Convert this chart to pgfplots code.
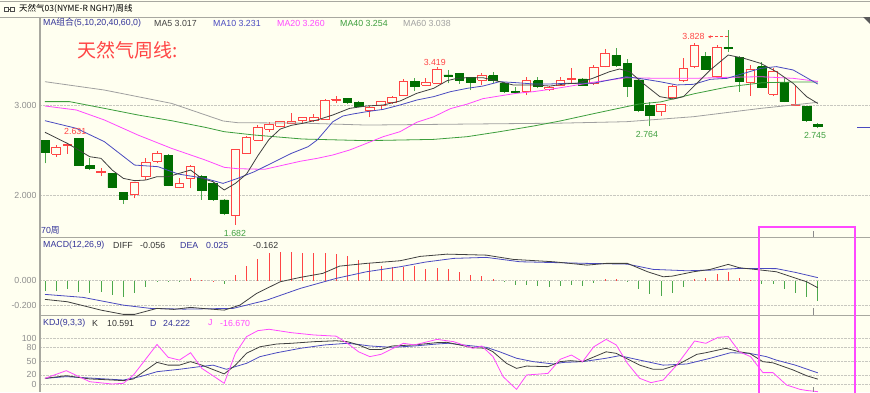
\documentclass[border=0pt]{standalone}
\usepackage{pgfplots}
\pgfplotsset{compat=1.18}
\usepackage{pgfplotstable}
\usepackage{fontspec}
\setmainfont{Liberation Sans}
\newfontfamily\cjk{Noto Sans CJK SC}
\usetikzlibrary{arrows.meta}
\definecolor{bg}{HTML}{FFFFF0}
\definecolor{framec}{HTML}{A8A8A0}
\definecolor{gridc}{HTML}{C8C8C0}
\definecolor{tickc}{HTML}{8E8E8E}
\definecolor{navyc}{HTML}{333399}
\definecolor{upc}{HTML}{FF4545}
\definecolor{dnc}{HTML}{006E00}
\definecolor{dnw}{HTML}{4CA84C}
\definecolor{ma5c}{HTML}{404040}
\definecolor{ma10c}{HTML}{4A4AC0}
\definecolor{ma20c}{HTML}{FF48FF}
\definecolor{ma40c}{HTML}{3C9E3C}
\definecolor{ma60c}{HTML}{A0A0A0}
\definecolor{labg}{HTML}{40A040}
\newcommand\hf{\fontsize{8.8}{10}\selectfont}

\pgfplotstableread{
i O H L C
0 2.607 2.607 2.357 2.478
1 2.456 2.559 2.430 2.530
2 2.555 2.566 2.460 2.566
3 2.631 2.633 2.331 2.338
4 2.331 2.412 2.283 2.302
5 2.254 2.302 2.217 2.265
6 2.247 2.247 2.081 2.089
7 2.033 2.033 1.908 1.964
8 2.019 2.155 1.971 2.147
9 2.210 2.412 2.173 2.368
10 2.383 2.493 2.357 2.467
11 2.441 2.460 2.107 2.118
12 2.092 2.191 2.081 2.136
13 2.191 2.340 2.081 2.320
14 2.210 2.228 1.953 2.055
15 2.136 2.155 1.945 1.964
16 1.953 1.964 1.787 1.806
17 1.787 2.520 1.682 2.511
18 2.467 2.658 2.460 2.644
19 2.614 2.779 2.610 2.750
20 2.732 2.816 2.706 2.791
21 2.768 2.827 2.754 2.816
22 2.798 2.908 2.798 2.816
23 2.835 2.871 2.805 2.860
24 2.827 2.901 2.816 2.860
25 2.842 3.063 2.835 3.055
26 3.055 3.099 3.018 3.063
27 3.070 3.070 3.011 3.033
28 3.033 3.048 2.974 2.982
29 2.938 2.989 2.864 2.971
30 3.000 3.048 2.952 3.037
31 3.026 3.103 3.011 3.085
32 3.110 3.283 3.099 3.257
33 3.257 3.294 3.154 3.209
34 3.221 3.301 3.209 3.246
35 3.239 3.419 3.232 3.397
36 3.331 3.386 3.239 3.320
37 3.349 3.349 3.232 3.268
38 3.305 3.305 3.165 3.250
39 3.276 3.356 3.221 3.331
40 3.323 3.360 3.239 3.268
41 3.239 3.257 3.136 3.147
42 3.147 3.202 3.130 3.136
43 3.147 3.305 3.110 3.268
44 3.268 3.305 3.184 3.202
45 3.173 3.209 3.158 3.195
46 3.221 3.305 3.213 3.276
47 3.283 3.404 3.239 3.294
48 3.287 3.294 3.209 3.221
49 3.239 3.441 3.221 3.415
50 3.423 3.617 3.415 3.570
51 3.544 3.625 3.423 3.434
52 3.459 3.504 3.092 3.202
53 3.276 3.276 2.919 2.945
54 3.000 3.037 2.764 2.890
55 2.926 3.007 2.882 3.007
56 3.081 3.221 3.066 3.202
57 3.276 3.515 3.257 3.404
58 3.423 3.680 3.404 3.654
59 3.540 3.588 3.386 3.397
60 3.312 3.662 3.305 3.632
61 3.632 3.828 3.588 3.625
62 3.526 3.540 3.147 3.257
63 3.250 3.441 3.099 3.397
64 3.423 3.470 3.184 3.195
65 3.121 3.412 3.099 3.367
66 3.250 3.294 3.029 3.037
67 2.993 3.221 2.989 3.007
68 2.982 2.989 2.816 2.835
69 2.787 2.798 2.745 2.761
}\candles

\pgfplotsset{
  panel/.style={scale only axis, width=830pt, xmin=-0.446, xmax=73.66,
    anchor=north west, axis line style={draw=none}, xtick=\empty,
    major tick length=0pt, ymajorgrids,
    grid style={gridc, densely dotted, line width=0.6pt},
    yticklabel style={font=\fontsize{8.8}{10}\selectfont, text=tickc},
    clip=true},
  upwick/.style={upc, line width=0.9pt},
  dnwick/.style={dnw, line width=0.9pt},
  upbody/.style={draw=upc, fill=bg, line width=0.9pt},
  dnbody/.style={draw=dnc, fill=dnc, line width=0.6pt},
}

\begin{document}
\begin{tikzpicture}[x=1pt,y=1pt]
\fill[bg] (0pt,0pt) rectangle (870pt,-392pt);
% title bar
\draw[framec, line width=0.8pt] (0pt,-1pt) -- (870pt,-1pt);
\draw[black!70, line width=0.6pt] (4pt,-7pt) rectangle (8.5pt,-11pt);
\draw[black!70, line width=0.6pt] (10pt,-7pt) rectangle (14.5pt,-11pt);
\draw[black!70, line width=0.6pt] (8.5pt,-9pt) -- (10pt,-9pt);
\node[anchor=west, inner sep=0, font=\cjk\fontsize{8.5}{9}\selectfont] at (19pt,-9pt) {天然气03(NYME-R NGH7)周线};

% ---------------- main panel
\begin{axis}[panel, at={(40pt,-17pt)}, height=220pt, ymin=1.545, ymax=3.970,
  ytick={2,3}, yticklabels={2.000,3.000}]
\pgfplotstablegetrowsof{\candles}
\pgfmathtruncatemacro\lastrow{\pgfplotsretval-1}
\pgfplotsforeachungrouped \r in {0,...,\lastrow}{%
  \pgfplotstablegetelem{\r}{i}\of\candles \edef\ci{\pgfplotsretval}%
  \pgfplotstablegetelem{\r}{O}\of\candles \edef\cO{\pgfplotsretval}%
  \pgfplotstablegetelem{\r}{H}\of\candles \edef\cH{\pgfplotsretval}%
  \pgfplotstablegetelem{\r}{L}\of\candles \edef\cL{\pgfplotsretval}%
  \pgfplotstablegetelem{\r}{C}\of\candles \edef\cC{\pgfplotsretval}%
  \pgfmathsetmacro\xa{\ci-0.38}%
  \pgfmathsetmacro\xb{\ci+0.38}%
  \pgfmathtruncatemacro\isup{(\cC>=\cO)?1:0}%
  \ifnum\isup=1 \def\wk{upwick}\def\bd{upbody}\else\def\wk{dnwick}\def\bd{dnbody}\fi
  \edef\temp{\noexpand\addplot[\wk] coordinates {(\ci,\cL) (\ci,\cH)};
    \noexpand\addplot[\bd] coordinates {(\xa,\cO) (\xb,\cO) (\xb,\cC) (\xa,\cC) (\xa,\cO)};}%
  \temp
}
% MA60
\addplot[ma60c, line width=0.8pt] coordinates {(0,3.257) (5.3,3.165) (11.3,3.018) (15.9,2.824) (17.2,2.805) (23,2.800) (28.7,2.779) (37.7,2.790) (46,2.800) (51.9,2.816) (57.9,2.871) (63.9,2.963) (66.8,3.000) (69,3.030)};
% MA40
\addplot[ma40c, line width=0.8pt] coordinates {(0,3.037) (2.2,3.037) (5.3,2.963) (8.3,2.890) (11.3,2.827) (14.3,2.754) (16,2.706) (18.7,2.669) (23,2.625) (28.7,2.607) (34.7,2.621) (37.7,2.651) (40.6,2.706) (43.6,2.768) (46,2.824) (49,2.905) (53,3.010) (55,3.035) (58,3.125) (61,3.200) (64,3.245) (67,3.254) (69,3.254)};
% MA20
\addplot[ma20c, line width=0.8pt] coordinates {(0,2.989) (2.8,2.945) (5.3,2.835) (8.3,2.669) (11.3,2.522) (14.3,2.394) (16,2.313) (17.2,2.298) (19.6,2.291) (22.8,2.380) (24.3,2.412) (25.7,2.449) (27.2,2.504) (28.7,2.577) (30.2,2.651) (31.7,2.706) (33.2,2.810) (34.7,2.870) (36.2,2.960) (37.7,3.010) (39.1,3.070) (40.6,3.100) (42.1,3.129) (43.6,3.147) (45.1,3.173) (46.6,3.202) (48.9,3.250) (51.9,3.301) (54.9,3.294) (57.9,3.294) (60.9,3.305) (63.9,3.312) (66.8,3.294) (69,3.260)};
% MA10
\addplot[ma10c, line width=0.8pt] coordinates {(0,2.827) (2.8,2.743) (5.3,2.596) (8,2.338) (10.1,2.320) (11.9,2.239) (14.3,2.191) (15.9,2.136) (17.2,2.191) (18.7,2.265) (20.2,2.357) (22,2.467) (23.5,2.541) (24.3,2.614) (25.2,2.743) (25.7,2.816) (26.6,2.879) (27.5,2.901) (28.7,2.926) (30.2,2.952) (31.7,3.000) (33.2,3.055) (34.7,3.092) (36.2,3.147) (37.7,3.184) (39.1,3.209) (40.6,3.257) (42.1,3.246) (43.6,3.232) (45.1,3.232) (46.6,3.239) (48.9,3.239) (50.4,3.276) (51.9,3.312) (53.4,3.287) (54.9,3.257) (56.4,3.221) (57.9,3.228) (59.4,3.283) (60.9,3.294) (62.4,3.349) (63.9,3.404) (65.3,3.423) (66.8,3.386) (69,3.231)};
% MA5
\addplot[ma5c, line width=0.8pt] coordinates {(0,2.699) (2,2.577) (3,2.504) (4,2.430) (5,2.412) (6,2.283) (7,2.191) (8,2.166) (9,2.173) (10,2.210) (11,2.210) (12,2.247) (13,2.283) (14,2.191) (15,2.155) (16,2.063) (17,2.136) (18,2.240) (19,2.440) (20,2.620) (21,2.735) (22,2.776) (23,2.798) (24.3,2.835) (25.7,2.890) (27.2,2.963) (28.7,2.989) (30.2,3.000) (31.7,3.044) (33.2,3.129) (34.7,3.184) (35.9,3.268) (36.8,3.294) (37.7,3.301) (39.1,3.301) (40.6,3.257) (41.8,3.221) (43.6,3.221) (45.1,3.209) (46.6,3.235) (47.5,3.239) (48.9,3.294) (50.4,3.367) (51.3,3.397) (52.2,3.367) (53.4,3.239) (54.9,3.092) (56.1,3.066) (57,3.092) (57.9,3.202) (59.4,3.386) (61,3.551) (62.4,3.515) (63.9,3.459) (65.3,3.367) (66.8,3.239) (68,3.092) (69,3.017)};
% price annotations
\node[font=\hf, text=upc] at (axis cs:2.7,2.706) {2.631};
\node[font=\hf, text=upc] at (axis cs:34.8,3.471) {3.419};
\node[font=\hf, text=upc] at (axis cs:57.9,3.752) {3.828};
\draw[upc, densely dashed, line width=0.6pt, -{Stealth[length=3pt,width=3pt]}] (axis cs:61,3.752) -- (axis cs:59.2,3.752);
\node[font=\hf, text=labg] at (axis cs:16.96,1.588) {1.682};
\node[font=\hf, text=labg] at (axis cs:53.75,2.677) {2.764};
\node[font=\hf, text=labg] at (axis cs:68.75,2.662) {2.745};
\end{axis}

% ---------------- MACD panel
\begin{axis}[panel, at={(40pt,-237pt)}, height=78pt, ymin=-0.274, ymax=0.350,
  ytick={-0.2,0}, yticklabels={-0.200,0.000}]
\addplot[ycomb, upc, line width=0.9pt] coordinates {(13,0.019) (14,0.010) (15,0.002) (17,0.045) (18,0.120) (19,0.173) (20,0.224) (21,0.227) (22,0.227) (23,0.219) (24,0.219) (25,0.219) (26,0.213) (27,0.200) (28,0.165) (29,0.139) (30,0.120) (31,0.107) (32,0.112) (33,0.117) (34,0.095) (35,0.099) (36,0.091) (37,0.067) (38,0.045) (39,0.037) (40,0.011) (50,0.011) (51,0.011) (58,0.013) (59,0.019) (60,0.051) (61,0.072) (62,0.024) (63,0.005)};
\addplot[ycomb, dnw, line width=0.9pt] coordinates {(0,-0.080) (1,-0.080) (2,-0.069) (3,-0.088) (4,-0.096) (5,-0.088) (6,-0.115) (7,-0.128) (8,-0.101) (9,-0.048) (10,-0.002) (11,-0.010) (12,-0.005) (16,-0.027) (41,-0.013) (42,-0.035) (43,-0.035) (44,-0.040) (45,-0.048) (46,-0.040) (47,-0.035) (48,-0.040) (49,-0.016) (52,-0.013) (53,-0.067) (54,-0.107) (55,-0.123) (56,-0.096) (57,-0.048) (64,-0.027) (65,-0.027) (66,-0.067) (67,-0.096) (68,-0.133) (69,-0.162)};
% DEA
\addplot[ma10c, line width=0.8pt] coordinates {(0,-0.109) (3.4,-0.133) (7,-0.195) (9.4,-0.221) (12.4,-0.227) (16.8,-0.221) (19.8,-0.155) (22.8,-0.061) (26,0.019) (28.7,0.072) (31.7,0.112) (34,0.150) (36.5,0.179) (39.4,0.187) (42.4,0.152) (48.4,0.139) (52,0.133) (54.3,0.091) (57.3,0.080) (59.4,0.085) (62,0.099) (65.3,0.097) (67,0.067) (69,0.025)};
% DIFF
\addplot[ma5c, line width=0.8pt] coordinates {(0,-0.149) (2,-0.168) (5,-0.235) (7,-0.269) (8,-0.269) (10,-0.221) (11.5,-0.229) (13,-0.213) (14,-0.221) (16,-0.235) (17.4,-0.195) (18.9,-0.101) (21,-0.008) (22.8,0.027) (24.8,0.059) (26.3,0.117) (28.7,0.139) (31.7,0.160) (33.5,0.195) (35.9,0.213) (39.4,0.205) (41.8,0.171) (45.4,0.152) (48.4,0.125) (50.1,0.139) (52,0.139) (53.8,0.072) (55.2,0.032) (56,0.037) (57.9,0.072) (59.4,0.091) (61,0.131) (62,0.104) (64,0.085) (65.3,0.072) (66.8,0.027) (68,-0.008) (69,-0.056)};
\end{axis}

% ---------------- KDJ panel
\begin{axis}[panel, at={(40pt,-315pt)}, height=77pt, ymin=-17.4, ymax=150,
  ytick={0,20,50,80,100}, yticklabels={0,20,50,80,100}]
% D
\addplot[ma10c, line width=0.8pt] coordinates {(0,12.3) (1.9,16) (4.5,12.3) (7,8.7) (8.5,16) (10,26.8) (12,32) (13.8,37.7) (15,41) (16.2,32) (18,45) (19.2,59.5) (20.7,68) (22.8,77.6) (25,85) (27,88.5) (28,86) (29,82.7) (31,79.8) (33,82.7) (35,87) (36,88.5) (38.2,82.7) (39.4,79.8) (40.6,70) (42.1,56) (43.6,48.6) (45.4,43.5) (46.3,47) (48,48.6) (50.1,56) (51.3,61.6) (53.1,52) (55.2,41) (57.3,43.5) (59.4,56) (61.2,68) (62.9,66.7) (64.4,59.5) (65.3,52) (67,41) (69,24.222)};
% K
\addplot[ma5c, line width=0.8pt] coordinates {(0,12.3) (1.9,18) (4,11) (6,8.7) (7,7.3) (7.9,11) (10,47) (11,41) (12,41) (13,48.6) (14,41) (16,22) (17,41) (18,67) (19.2,81) (20.7,87) (22,88.5) (24,92) (26,94) (27,92) (28,85) (29,75) (30,75) (31,82.7) (33,85) (35,90) (35.9,90.6) (37,85) (38.2,79) (39.4,77.6) (40,70) (41.2,45) (42.1,34) (43,39) (44.9,37.7) (46,48.6) (46.9,50.8) (48,48.6) (50.1,70) (51,66.7) (53.1,41) (54.3,32) (55.2,32) (56.4,41) (58.2,64.5) (59,68) (60.8,77.6) (62,70) (62.9,66.7) (64.1,48.6) (65,46) (66.8,30.5) (68,18) (69,10.591)};
% J
\addplot[ma20c, line width=0.8pt] coordinates {(0,12.3) (1.9,29) (4,5) (6,0) (7,1.5) (7.9,19.6) (10,86) (11,58) (12,52) (13,68) (14,34) (15,18) (16,1.5) (17,66.7) (18,103) (19,116) (20,119) (22,111.6) (24,106.6) (26,104) (27,88.5) (28,70) (29,59.5) (30,64.5) (32,88.5) (33,85) (35,97) (36.5,92) (38.2,77.6) (39,82.7) (40,59.5) (40.9,16) (42.1,-11.6) (43,19.6) (44.9,23) (46,53.7) (47,63) (48,48.6) (49,81) (50.1,97) (51,85) (52,45) (53.1,12.3) (54.1,3) (55.2,8.7) (56.4,41) (58,93.5) (59,88.5) (60.1,101.5) (61,103) (62,70) (63,59.5) (64.1,24.7) (65,24.7) (66.2,-2) (67.4,-11.6) (68,-14) (69,-16.67)};
\end{axis}

% frame lines
\draw[framec, line width=0.9pt] (0pt,-17pt) -- (870pt,-17pt);
\draw[framec, line width=0.9pt] (40pt,-237pt) -- (870pt,-237pt);
\draw[framec, line width=0.9pt] (40pt,-315pt) -- (870pt,-315pt);
\draw[framec, line width=1.2pt] (40pt,-17pt) -- (40pt,-392pt);
\fill[black!65] (863pt,-17pt) -- (870pt,-17pt) -- (870pt,-24pt) -- cycle;
\draw[ma10c, line width=1pt] (857pt,-127pt) -- (870pt,-127pt);

% headers
\node[anchor=west, inner sep=0, font=\hf, text=navyc] at (43pt,-23pt) {MA{\cjk 组合}(5,10,20,40,60,0)};
\node[anchor=west, inner sep=0, font=\hf, text=ma5c] at (154pt,-23pt) {MA5 3.017};
\node[anchor=west, inner sep=0, font=\hf, text=ma10c] at (213pt,-23pt) {MA10 3.231};
\node[anchor=west, inner sep=0, font=\hf, text=ma20c] at (277pt,-23pt) {MA20 3.260};
\node[anchor=west, inner sep=0, font=\hf, text=ma40c] at (340pt,-23pt) {MA40 3.254};
\node[anchor=west, inner sep=0, font=\hf, text=ma60c] at (403pt,-23pt) {MA60 3.038};
\node[anchor=west, inner sep=0, font=\cjk\fontsize{19}{21}\selectfont, text=upc] at (77pt,-50pt) {天然气周线:};
\node[anchor=west, inner sep=0, font=\hf, text=navyc] at (41pt,-230pt) {70{\cjk 周}};

\node[anchor=west, inner sep=0, font=\hf, text=navyc] at (43pt,-245pt) {MACD(12,26,9)};
\node[anchor=west, inner sep=0, font=\hf, text=black!80] at (113pt,-245pt) {DIFF};
\node[anchor=west, inner sep=0, font=\hf, text=black!80] at (140pt,-245pt) {-0.056};
\node[anchor=west, inner sep=0, font=\hf, text=navyc] at (180pt,-245pt) {DEA};
\node[anchor=west, inner sep=0, font=\hf, text=navyc] at (206pt,-245pt) {0.025};
\node[anchor=west, inner sep=0, font=\hf, text=black!80] at (253pt,-245pt) {-0.162};

\node[anchor=west, inner sep=0, font=\hf, text=navyc] at (43pt,-323pt) {KDJ(9,3,3)};
\node[anchor=west, inner sep=0, font=\hf, text=black!80] at (92pt,-323pt) {K};
\node[anchor=west, inner sep=0, font=\hf, text=black!80] at (107pt,-323pt) {10.591};
\node[anchor=west, inner sep=0, font=\hf, text=navyc] at (150pt,-323pt) {D};
\node[anchor=west, inner sep=0, font=\hf, text=navyc] at (163pt,-323pt) {24.222};
\node[anchor=west, inner sep=0, font=\hf, text=ma20c] at (208pt,-323pt) {J};
\node[anchor=west, inner sep=0, font=\hf, text=ma20c] at (220pt,-323pt) {-16.670};

% selection box and cursor ticks
\draw[ma20c, line width=1.1pt] (759pt,-227pt) rectangle (855pt,-396pt);
\draw[black!45, line width=0.8pt] (813pt,-231pt) -- (813pt,-237pt);
\draw[black!45, line width=0.8pt] (813pt,-308pt) -- (813pt,-315pt);
\draw[black!45, line width=0.8pt] (813pt,-387pt) -- (813pt,-392pt);

\pgfresetboundingbox
\useasboundingbox (0pt,0pt) rectangle (870pt,-392pt);
\end{tikzpicture}
\end{document}
